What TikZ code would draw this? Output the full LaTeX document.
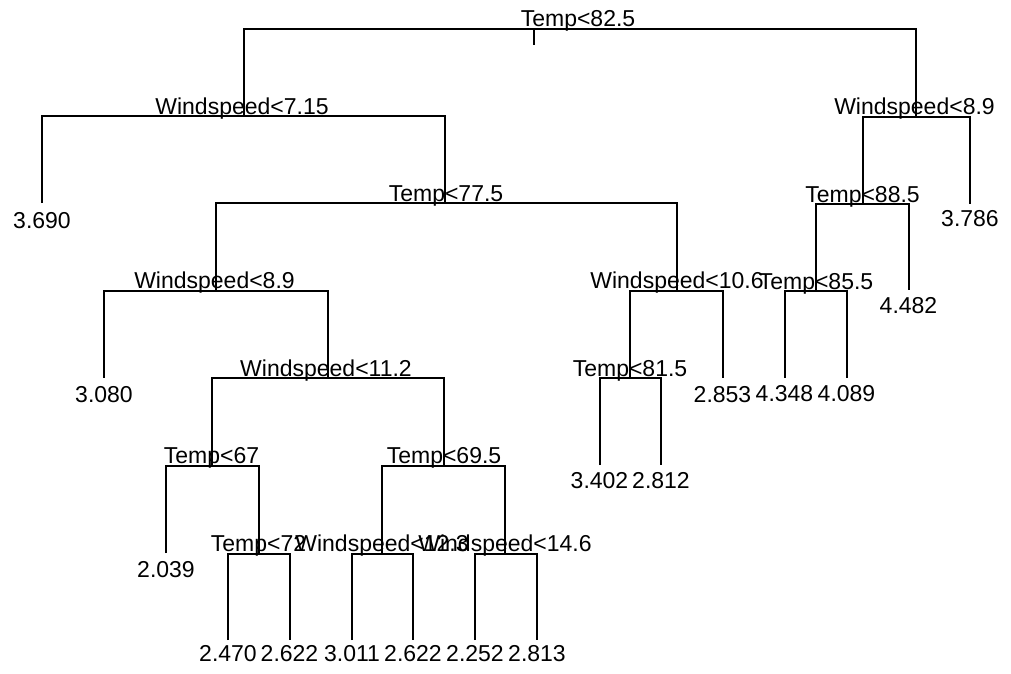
\documentclass[tikz,border=0pt]{standalone}
\usepackage{fontspec}
\setmainfont{Liberation Sans}
\begin{document}
\begin{tikzpicture}[x=1pt,y=-1pt,
  edge/.style={line width=2pt, line join=miter},
  lbl/.style={anchor=base, inner sep=0pt, font=\fontsize{23}{27}\selectfont}]
\useasboundingbox[fill=white] (0,0) rectangle (1011,673);
% split points and leaf ends
\coordinate (R) at (579.5,28.5);
\coordinate (Rstem) at (534,28.5);
\coordinate (Rtick) at (534,45);
\coordinate (A) at (244,116);
\coordinate (L1) at (42,203);
\coordinate (B) at (445,203);
\coordinate (C) at (216,290.5);
\coordinate (L2) at (104,377.5);
\coordinate (D) at (328,378);
\coordinate (E) at (212,465.5);
\coordinate (L3) at (166,553);
\coordinate (F) at (258.5,553.5);
\coordinate (L4) at (228,640);
\coordinate (L5) at (289.5,640);
\coordinate (G) at (444,465.5);
\coordinate (H) at (382,553.5);
\coordinate (L6) at (352,640);
\coordinate (L7) at (413,640);
\coordinate (I) at (505,553.5);
\coordinate (L8) at (475,640);
\coordinate (L9) at (537,640);
\coordinate (J) at (677,290.5);
\coordinate (K) at (630,378);
\coordinate (L10) at (599.5,465);
\coordinate (L11) at (661,465);
\coordinate (L12) at (722.5,377.5);
\coordinate (P) at (916,116.5);
\coordinate (M) at (862.5,204);
\coordinate (N) at (816,291);
\coordinate (L13) at (784.5,377.5);
\coordinate (L14) at (846.5,377.5);
\coordinate (L15) at (908.5,290);
\coordinate (L16) at (970,203.5);
% connectors
\draw[edge] (A) |- (R) -| (P);
\draw[edge] (Rstem) -- (Rtick);
\draw[edge] (L1) |- (A) -| (B);
\draw[edge] (C) |- (B) -| (J);
\draw[edge] (L2) |- (C) -| (D);
\draw[edge] (E) |- (D) -| (G);
\draw[edge] (L3) |- (E) -| (F);
\draw[edge] (L4) |- (F) -| (L5);
\draw[edge] (H) |- (G) -| (I);
\draw[edge] (L6) |- (H) -| (L7);
\draw[edge] (L8) |- (I) -| (L9);
\draw[edge] (K) |- (J) -| (L12);
\draw[edge] (L10) |- (K) -| (L11);
\draw[edge] (M) |- (P) -| (L16);
\draw[edge] (N) |- (M) -| (L15);
\draw[edge] (L13) |- (N) -| (L14);
% split labels
\node[lbl] (tR) at (578,26.5) {Temp<82.5};
\node[lbl] (tA) at (242,114) {Windspeed<7.15};
\node[lbl] (tB) at (446,201.3) {Temp<77.5};
\node[lbl] (tC) at (214.5,288.5) {Windspeed<8.9};
\node[lbl] (tD) at (326,376) {Windspeed<11.2};
\node[lbl] (tE) at (211.5,463.5) {Temp<67};
\node[lbl] (tF) at (258.5,551.5) {Temp<72};
\node[lbl] (tG) at (444,463.5) {Temp<69.5};
\node[lbl] (tH) at (382,551.5) {Windspeed<12.3};
\node[lbl] (tI) at (505,551.5) {Windspeed<14.6};
\node[lbl] (tJ) at (677,288.5) {Windspeed<10.6};
\node[lbl] (tK) at (630,376) {Temp<81.5};
\node[lbl] (tP) at (914.5,114.5) {Windspeed<8.9};
\node[lbl] (tM) at (862.5,202) {Temp<88.5};
\node[lbl] (tN) at (816,289) {Temp<85.5};
% leaf labels
\node[lbl] (v1) at (42,228) {3.690};
\node[lbl] (v2) at (104,402) {3.080};
\node[lbl] (v3) at (166,577) {2.039};
\node[lbl] (v4) at (228,661.5) {2.470};
\node[lbl] (v5) at (289.5,661.5) {2.622};
\node[lbl] (v6) at (352,661.5) {3.011};
\node[lbl] (v7) at (413,661.5) {2.622};
\node[lbl] (v8) at (475,661.5) {2.252};
\node[lbl] (v9) at (537,661.5) {2.813};
\node[lbl] (v10) at (599.5,488) {3.402};
\node[lbl] (v11) at (661,488) {2.812};
\node[lbl] (v12) at (722.5,402) {2.853};
\node[lbl] (v13) at (784.5,401.7) {4.348};
\node[lbl] (v14) at (846.5,401.7) {4.089};
\node[lbl] (v15) at (908.5,313.3) {4.482};
\node[lbl] (v16) at (970,226.7) {3.786};
\end{tikzpicture}
\end{document}
